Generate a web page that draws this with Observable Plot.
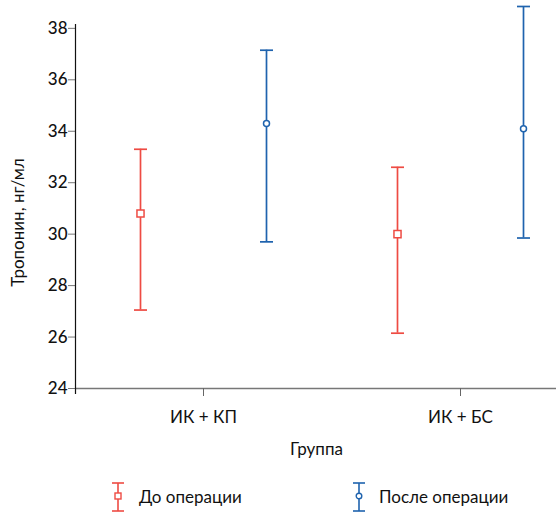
<!DOCTYPE html>
<html><head><meta charset="utf-8">
<script src="https://cdn.jsdelivr.net/npm/d3@7"></script>
<script src="https://cdn.jsdelivr.net/npm/@observablehq/plot@0.6"></script>
<style>
body{margin:0;background:#fff;font-family:Lato,"Open Sans",sans-serif;}
#chart svg{display:block;}
#legend{height:43px;margin-top:5px;font-size:17px;color:#111;position:relative;}
.item{position:absolute;display:flex;align-items:center;}
</style></head>
<body><div id="chart"></div><div id="legend"></div>
<script>
const groups = ["ИК + КП", "ИК + БС"];
const series = ["До операции", "После операции"];
const means = [[30.8, 30.0], [34.3, 34.1]];
const lows  = [[27.05, 26.15], [29.7, 29.85]];
const highs = [[33.3, 32.6], [37.15, 38.85]];
const yTicks = [24, 26, 28, 30, 32, 34, 36, 38];
const colors = ["#EE4B43", "#1F63AE"];

const rows = [];
series.forEach((s, si) => groups.forEach((g, gi) => rows.push({
  group: g, series: s, mean: means[si][gi], lo: lows[si][gi], hi: highs[si][gi]
})));
const offs = {"До операции": -63, "После операции": 63};
const capSym = {draw(ctx){ ctx.moveTo(-6.5,0); ctx.lineTo(6.5,0); }};
const font = "Lato, 'Open Sans', sans-serif";

const marks = [];
series.forEach((s, si) => {
  const d = rows.filter(r => r.series === s);
  const dx = offs[s], c = colors[si];
  marks.push(Plot.ruleX(d, {x: "group", y1: "lo", y2: "hi", stroke: c, strokeWidth: 1.7, dx}));
  marks.push(Plot.dot(d, {x: "group", y: "hi", symbol: capSym, stroke: c, strokeWidth: 1.7, dx}));
  marks.push(Plot.dot(d, {x: "group", y: "lo", symbol: capSym, stroke: c, strokeWidth: 1.7, dx}));
  marks.push(Plot.dot(d, {x: "group", y: "mean", symbol: si === 0 ? "square" : "circle",
    r: si === 0 ? 4 : 3, fill: "white", stroke: c, strokeWidth: 1.5, dx}));
});

const chart = Plot.plot({
  width: 556, height: 470,
  marginLeft: 76, marginRight: 0, marginTop: 24, marginBottom: 82,
  style: {fontFamily: font, fontSize: "17px", color: "#111", background: "white"},
  x: {type: "point", domain: groups, range: [203, 460], padding: 0, axis: null},
  y: {domain: [24, 38.15], axis: null},
  marks: [
    Plot.ruleY([24], {stroke: "#777", strokeWidth: 1.5}),
    Plot.axisX({ticks: groups, tickSize: 8, stroke: "#666", tickPadding: 14, fontSize: 17, label: null}),
    Plot.axisY({ticks: yTicks, tickSize: 8, stroke: "#777", tickPadding: 1, fontSize: 17, fontWeight: 500, label: null, fill: "#111"}),
    Plot.text(["Группа"], {frameAnchor: "bottom", dy: 66, fontSize: 17, fill: "#111"}),
    Plot.text(["Тропонин, нг/мл"], {frameAnchor: "left", textAnchor: "middle", dx: -58, dy: 16, rotate: -90, fontSize: 17, fill: "#111"}),
    ...marks
  ]
});
document.getElementById("chart").appendChild(chart);

// y axis line extending below x axis
const svg = d3.select(chart);
svg.append("line").attr("x1", 75.5).attr("x2", 75.5).attr("y1", 24).attr("y2", 394).attr("stroke", "#111").attr("stroke-width", 1.2);

const legend = document.getElementById("legend");
const pos = [[112, 139], [353, 379]];
series.forEach((s, i) => {
  const it = document.createElement("div");
  it.className = "item";
  it.style.left = pos[i][0] + "px";
  it.style.top = "0px"; it.style.height = "43px";
  const sym = i === 0
    ? `<rect x="3" y="11" width="6" height="6" fill="white" stroke="${colors[i]}" stroke-width="1.4"/>`
    : `<circle cx="6" cy="14" r="2.8" fill="white" stroke="${colors[i]}" stroke-width="1.4"/>`;
  it.innerHTML = `<svg width="12" height="30" style="display:block"><line x1="6" x2="6" y1="1" y2="29" stroke="${colors[i]}" stroke-width="1.6"/><line x1="0" x2="12" y1="1" y2="1" stroke="${colors[i]}" stroke-width="1.6"/><line x1="0" x2="12" y1="29" y2="29" stroke="${colors[i]}" stroke-width="1.6"/>${sym}</svg><span style="margin-left:${pos[i][1]-pos[i][0]-12}px">${s}</span>`;
  legend.appendChild(it);
});
</script></body></html>
